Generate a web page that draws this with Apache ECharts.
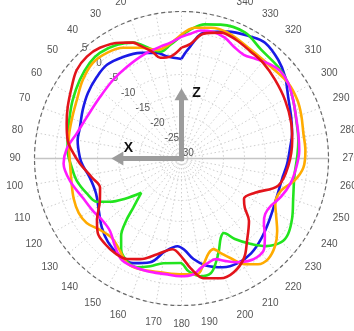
<!DOCTYPE html>
<html><head><meta charset="utf-8">
<script src="https://cdn.jsdelivr.net/npm/echarts@6.0.0/dist/echarts.min.js"></script>
<style>html,body{margin:0;padding:0;background:#fff;overflow:hidden}#c{width:354px;height:331px}</style>
</head><body><div id="c"></div>
<script>
// ---- data (dB vs angle in degrees, counter-clockwise from top) ----
const angleTicks = [0, 360, 10];        // min, max, step of angle labels
const radiusTicks = [-30, 5, 5];        // min, max, step of radial labels

const redAngle = [0,6.2,11.9,14.9,20.1,22.7,27.9,36.4,42.9,49.8,56.9,65.7,72.9,81,85.8,92.8,102,109.7,117.4,126.4,131.7,138.2,144.9,151.6,157.7,165.8,174.3,180.6,184.7,190.5,198.1,204.7,212.1,218.4,227.2,232.1,237.2,245,254.3,266.2,279.3,287.8,299.4,310,319.5,326.9,335.4,342.7,349.9,355.5,360];
const redDb = [-3.6,-5.6,-5.5,-3.9,-1.4,-0.1,1.2,2.75,3.1,2.66,1.2,-0.27,-1.4,-2.57,-3.8,-5.76,-8.2,-9.4,-8.1,-5.0,-3.3,-2.7,-2.45,-2.8,-4.1,-6.5,-8.3,-6.3,-3.8,-1.0,0.0,-0.2,-2.0,-4.9,-8.1,-10.9,-12.3,-10.7,-6.1,-4.5,-3.3,-2.55,-1.7,-0.9,-0.07,0.3,1.1,1.4,0.2,-2.6,-3.6];

const blueAngle = [0,7.9,12.9,21.3,29.9,38.5,46,55,63.9,72.9,80.1,89.4,94.1,101.8,112.4,122.4,131.1,138.7,146.4,155.2,163.2,170.1,177.4,181.9,186.8,192.8,200.8,208.3,216.3,224.6,234.5,247,258.7,267.3,275.8,282.8,290.6,299.9,308.2,315.6,324.2,330.3,340,349.6,356.8,360];
const blueDb = [-6.3,-5.5,-4.2,-3.0,-2.1,-1.5,-2.0,-2.8,-3.8,-4.7,-4.9,-5.8,-6.45,-7.7,-8.0,-6.7,-4.85,-3.5,-2.7,-2.55,-4.2,-7.6,-9.1,-8.2,-5.9,-3.9,-2.3,-1.7,-2.0,-3.05,-4.4,-5.5,-5.55,-4.8,-4.0,-3.0,-2.1,-0.7,1.4,2.9,4.0,3.4,2.15,0.47,-4.1,-6.3];

const greenAngle = [0,5.6,11.2,15.9,22.7,29.5,37.7,43.8,52.3,61.8,69.7,77.5,86,94.7,101.9,110.4,117.1,121.2,125.5,130.4,135.6,138.4,142.1,146.3,152.1,157.8,163.8,170.2,179.4,183.6,189.2,194.3,198.1,201.9,206.3,209.6,213.5,219.1,224,230,234.7,241.8,250.6,261.4,271.5,278.8,288.4,297.6,305.3,313.5,323.8,333.3,343.7,350.2,356,360];
const greenDb = [-0.75,-2.8,-4.1,-2.8,-0.1,1.1,1.8,1.55,0.6,-0.6,-1.6,-2.3,-2.8,-3.8,-4.5,-6.0,-7.4,-10.1,-13.5,-17.4,-13.55,-10.1,-6.6,-4.1,-2.3,-2.05,-3.3,-4.7,-5.1,-3.1,-1.6,-1.8,-3.8,-6.2,-8.9,-9.6,-7.0,-3.75,-1.0,1.0,1.1,-0.1,-1.8,-2.8,-2.4,-1.85,-1.2,0.0,1.1,1.7,2.1,3.6,3.2,2.4,0.76,-0.75];

const orangeAngle = [0,7.1,12.5,20.4,27.8,35.2,42.8,51.5,60.8,70.8,80.9,91,102.4,110.5,117.9,124.2,131.2,138.9,145.4,152.6,159.6,169.5,181,187.9,191.8,196,199.6,202.5,206.3,211,215.9,220.7,226.9,232.8,238.8,244.2,252.1,258.9,265.7,273.7,281.7,289.9,296.8,305.3,315.6,327.4,339.8,347.4,354.3,360];
const orangeDb = [-0.5,-2.9,-3.5,-1.85,-0.2,0.8,1.05,0.04,-1.45,-2.3,-2.8,-3.4,-3.2,-2.6,-2.3,-2.7,-4.2,-4.85,-3.8,-1.9,-1.85,-2.45,-2.4,-2.2,-4.3,-6.55,-7.1,-5.6,-3.5,-0.65,1.07,1.6,0.5,-1.4,-3.65,-5.2,-5.1,-2.6,-0.9,-0.44,-0.37,0.33,0.9,1.1,0.5,0.7,1.9,1.9,1.3,-0.5];

const magentaAngle = [0,5.5,10.7,20.2,30.7,41.1,53,66.4,76.5,85,92.4,101.2,111.7,120.6,128.5,135.4,142.8,149,154.3,163.1,172.1,179.5,186,189.9,194,198.8,203.3,207.7,212.9,217.4,222.3,227.1,232,236.5,242.2,249,257,265.5,273.9,282.2,289.8,297.6,305.3,311.6,317.2,323.2,329,334.9,340.3,346.2,351.5,355.8,360];
const magentaDb = [-1.0,-2.3,-2.9,-3.7,-4.6,-5.2,-5.7,-5.4,-4.35,-2.6,-1.9,-2.9,-4.7,-5.5,-6.1,-5.76,-3.8,-2.05,-1.8,-1.95,-2.2,-1.95,-2.3,-3.5,-4.3,-4.7,-3.4,-2.1,-0.9,-0.4,-0.8,-2.9,-5.1,-6.1,-5.9,-4.6,-3.4,-2.6,-1.9,-1.55,-1.0,0.0,1.1,1.4,0.7,-0.4,-1.2,-0.6,0.57,1.1,0.8,-0.2,-1.0];

const axisNames = ['X', 'Z'];
const axisArrowDb = -13.3;   // arrow tip radius (dB)

// ---- chart ----
const FONT = 'Liberation Sans, Arial, sans-serif';
const zip = (a, r) => a.map((t, i) => [r[i], t]);
const center = [181.5, 158.5], R = 147;

const chart = echarts.init(document.getElementById('c'), null, {renderer: 'canvas'});
const mk = (name, ang, db, color) => ({
  name, type: 'line', coordinateSystem: 'polar', polarIndex: 0,
  data: zip(ang, db), smooth: 0.35, symbol: 'none', animation: false,
  lineStyle: {color, width: 2.6}, z: 5
});
chart.setOption({
  animation: false,
  backgroundColor: '#fff',
  polar: [{center, radius: R}, {center, radius: R}],
  angleAxis: [{
    polarIndex: 0, type: 'value', min: angleTicks[0], max: angleTicks[1], interval: angleTicks[2],
    startAngle: 90, clockwise: false,
    axisLine: {show: true, lineStyle: {color: '#6a6a6a', width: 1.2, type: [4, 3]}},
    axisTick: {show: false},
    axisLabel: {show: true, margin: 14, color: '#555', fontSize: 10, fontFamily: FONT,
      formatter: v => (v >= 360 ? '' : String(v))},
    splitLine: {show: true, lineStyle: {color: '#cfcfcf', width: 1, type: [1.5, 2.5]}}
  }, {
    polarIndex: 1, type: 'value', min: 0, max: 360, startAngle: 134, clockwise: false, show: false
  }],
  radiusAxis: [{
    polarIndex: 0, type: 'value', min: radiusTicks[0], max: radiusTicks[1], interval: radiusTicks[2],
    axisLine: {show: false}, axisTick: {show: false}, axisLabel: {show: false},
    splitLine: {show: true, lineStyle: {color: '#cfcfcf', width: 1, type: [1.5, 2.5]}}
  }, {
    polarIndex: 1, type: 'value', min: radiusTicks[0], max: radiusTicks[1], interval: radiusTicks[2],
    axisLine: {show: false}, axisTick: {show: false}, splitLine: {show: false},
    axisLabel: {show: true, margin: -7, align: 'center', verticalAlign: 'middle', color: '#555', fontSize: 10, fontFamily: FONT}
  }],
  series: [
    mk('blue', blueAngle, blueDb, '#1a1ae6'),
    mk('green', greenAngle, greenDb, '#22e41e'),
    mk('orange', orangeAngle, orangeDb, '#ffab00'),
    mk('magenta', magentaAngle, magentaDb, '#ff1aff'),
    mk('red', redAngle, redDb, '#e3141b')
  ]
});

// axis-orientation annotation (X / Z arrows) placed through the polar scale
const p = (db, ang) => chart.convertToPixel({seriesIndex: 0}, [db, ang]);
const c0 = p(radiusTicks[0], 0);
const xt = p(axisArrowDb, 90), zt = p(axisArrowDb, 0);
const rEdgeL = p(radiusTicks[1], 90), rEdgeR = p(radiusTicks[1], 270);
const G = '#9c9c9c', W = 5, H = 7, HL = 12;
chart.setOption({graphic: [
  {type: 'line', shape: {x1: rEdgeL[0], y1: c0[1], x2: rEdgeR[0], y2: c0[1]}, style: {stroke: '#c4c4c4', lineWidth: 1.5}, z: 3, silent: true},
  {type: 'rect', shape: {x: xt[0] + HL - 1, y: c0[1] - W / 2, width: c0[0] - xt[0] - HL + 1 + W / 2, height: W}, style: {fill: G}, z: 20},
  {type: 'polygon', shape: {points: [[xt[0], c0[1]], [xt[0] + HL, c0[1] - H], [xt[0] + HL, c0[1] + H]]}, style: {fill: G}, z: 20},
  {type: 'rect', shape: {x: c0[0] - W / 2, y: zt[1] + HL - 1, width: W, height: c0[1] - zt[1] - HL + 1 + W / 2}, style: {fill: G}, z: 20},
  {type: 'polygon', shape: {points: [[c0[0], zt[1]], [c0[0] - H, zt[1] + HL], [c0[0] + H, zt[1] + HL]]}, style: {fill: G}, z: 20},
  {type: 'text', x: xt[0] + 17, y: c0[1] - 10, style: {text: axisNames[0], font: 'bold 14px ' + FONT, fill: '#111', align: 'center', verticalAlign: 'middle'}, z: 21},
  {type: 'text', x: c0[0] + 15, y: zt[1] + 5, style: {text: axisNames[1], font: 'bold 14px ' + FONT, fill: '#111', align: 'center', verticalAlign: 'middle'}, z: 21}
]});
</script>
</body></html>
